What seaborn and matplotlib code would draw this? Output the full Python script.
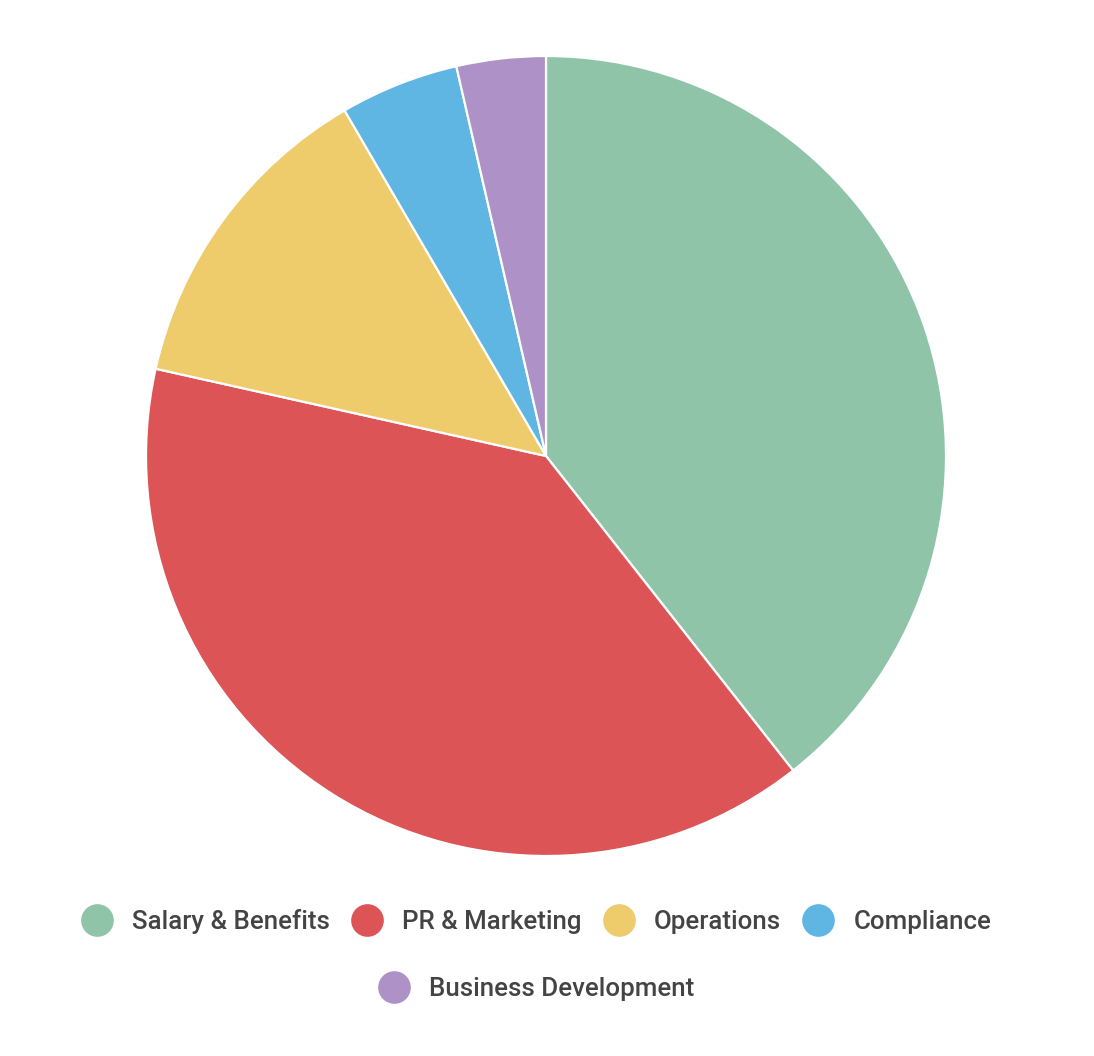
import matplotlib
matplotlib.use("Agg")
import matplotlib.pyplot as plt
from matplotlib.lines import Line2D
import seaborn as sns

# Budget share per category (percent)
categories = ["Salary & Benefits", "PR & Marketing", "Operations", "Compliance", "Business Development"]
shares = [39.4, 39.1, 13.1, 4.8, 3.6]
colors = ["#8FC4A8", "#DD5457", "#EECB6B", "#5FB6E3", "#AD91C7"]

sns.set_theme(style="white")
plt.rcParams["font.family"] = ["Roboto", "DejaVu Sans"]

W, H = 1094, 1056
fig = plt.figure(figsize=(W / 100, H / 100), dpi=100)

# pie centre ~ (546, 456) px, radius ~ 400 px
cx, cy, r = 546, 456, 400
ax = fig.add_axes([(cx - r) / W, (H - cy - r) / H, 2 * r / W, 2 * r / H])
ax.pie(shares, colors=colors, startangle=90, counterclock=False,
       wedgeprops=dict(edgecolor="white", linewidth=1.6))
ax.set_xlim(-1, 1)
ax.set_ylim(-1, 1)
ax.axis("off")


def make_handles(idx):
    return [Line2D([0], [0], marker="o", linestyle="none", markersize=22.5,
                   markerfacecolor=colors[i], markeredgecolor=colors[i]) for i in idx]


leg_kw = dict(frameon=False, prop=dict(size=18.6, weight="medium"), labelcolor="#444444",
              handletextpad=0.75, columnspacing=0.8, handlelength=1.25, loc="center")

lx = 536 / W
fig.legend(make_handles(range(4)), categories[:4], ncol=4,
           bbox_to_anchor=(lx, 1 - 922 / H), **leg_kw)
fig.legend(make_handles([4]), categories[4:], ncol=1,
           bbox_to_anchor=(lx, 1 - 989 / H), **leg_kw)

fig.savefig("out.png", dpi=100, facecolor="white")
